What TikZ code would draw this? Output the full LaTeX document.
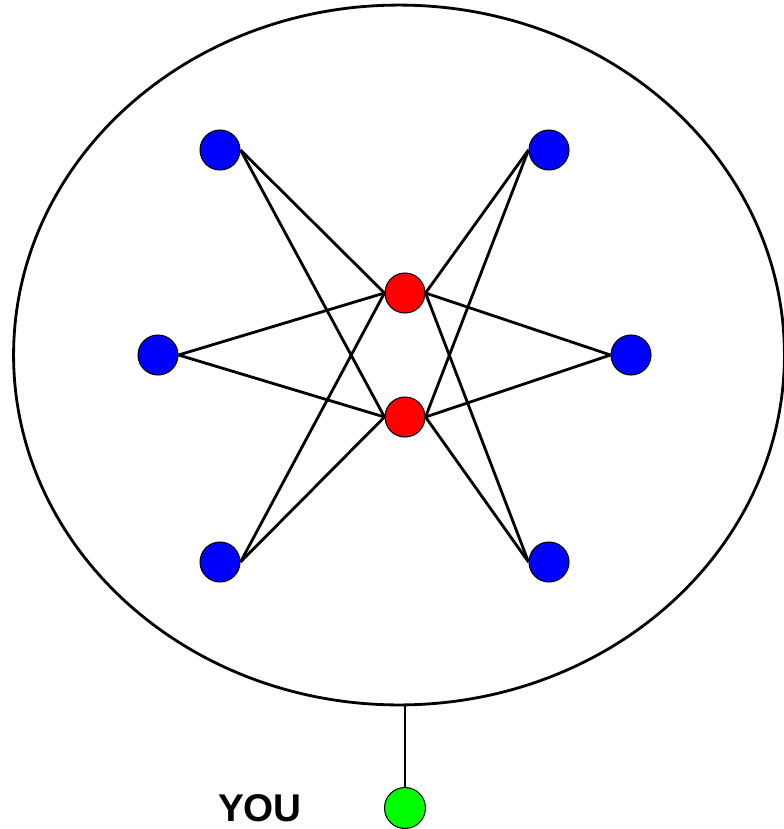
\documentclass[tikz,border=0pt]{standalone}
\usepackage{fontspec}
\setmainfont{Liberation Sans}
\usetikzlibrary{shapes.geometric}
\begin{document}
\begin{tikzpicture}[
			x=0.02cm, y=-0.02cm,
			dot/.style={circle, draw, line width=0.6pt, minimum size=0.8cm, inner sep=0pt},
			peer/.style={dot, fill=blue},
			hub/.style={dot, fill=red},
			link/.style={line width=1.6pt}
		]
		\useasboundingbox (0,0) rectangle (784,829);

		% Rete esterna
		\node[ellipse, draw, line width=1.6pt, minimum width=15.42cm, minimum height=14cm, inner sep=0pt] (net) at (399,355) {};

		% Nodi centrali
		\node[hub] (hubA) at (405,293) {};
		\node[hub] (hubB) at (405,417) {};

		% Nodi periferici
		\node[peer] (nw) at (220,150) {};
		\node[peer] (ne) at (549,150) {};
		\node[peer] (w) at (158,355) {};
		\node[peer] (e) at (631,355) {};
		\node[peer] (sw) at (220,562) {};
		\node[peer] (se) at (549,562) {};

		% Collegamenti
		\foreach \p in {nw,w,sw} {
			\draw[link] (\p.east) -- (hubA.west);
			\draw[link] (\p.east) -- (hubB.west);
		}
		\foreach \p in {ne,e,se} {
			\draw[link] (\p.west) -- (hubA.east);
			\draw[link] (\p.west) -- (hubB.east);
		}

		% Utente
		\node[dot, fill=green, minimum size=0.82cm] (you) at (405,808) {};
		\node[font=\fontsize{22}{26}\selectfont\bfseries] (youlabel) at (260,808) {YOU};
		\draw[link] (you.north) -- (you |- net.south);

	\end{tikzpicture}
\end{document}
